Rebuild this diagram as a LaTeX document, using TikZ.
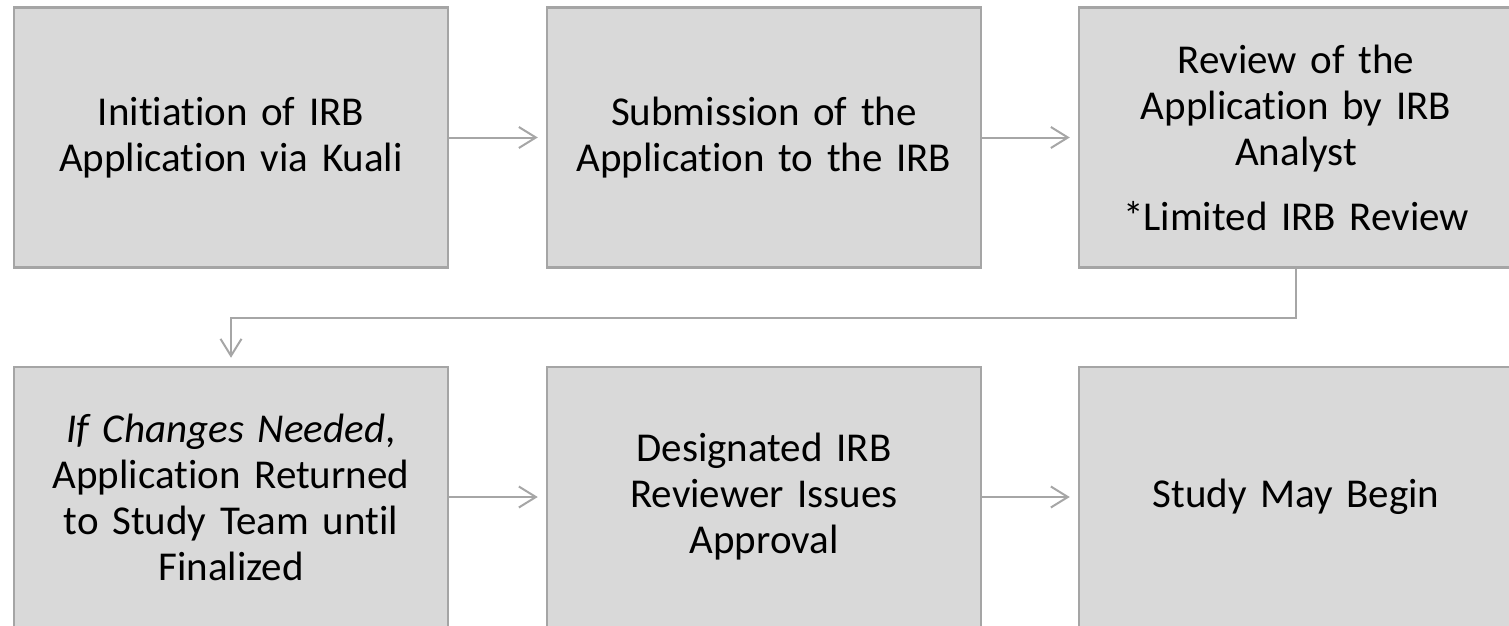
\documentclass[tikz,border=0pt]{standalone}
\usepackage{fontspec}
\setmainfont{Carlito}[Ligatures={NoCommon}]
\usetikzlibrary{arrows.meta,positioning}
\definecolor{boxfill}{HTML}{D9D9D9}
\definecolor{boxline}{HTML}{A5A5A5}
\definecolor{arrline}{HTML}{A6A6A6}
\begin{document}
\begin{tikzpicture}[x=1pt,y=-1pt,
  stepbox/.style={draw=boxline, fill=boxfill, line width=2.5pt,
    minimum width=434pt, minimum height=260pt, inner sep=0pt,
    align=center, text width=420pt,
    font=\fontsize{41pt}{46pt}\selectfont},
  conn/.style={draw=arrline, line width=2pt,
    -{Straight Barb[length=17pt,width=21pt,line width=2pt]}, shorten >=8pt}]
\useasboundingbox (0,0) rectangle (1509,626);
\clip (0,0) rectangle (1509,626);
\node[stepbox] (b1) at (231,137.5) {Initiation of IRB\\Application via Kuali};
\node[stepbox] (b2) at (764,137.5) {Submission of the\\Application to the IRB};
\node[stepbox] (b3) at (1296,137.5) {Review of the\\Application by IRB\\Analyst\\[19pt]*Limited IRB Review};
\node[stepbox] (b4) at (231,497) {\textit{If Changes Needed},\\Application Returned\\to Study Team until\\Finalized};
\node[stepbox] (b5) at (764,497) {Designated IRB\\Reviewer Issues\\Approval};
\node[stepbox] (b6) at (1296,497) {Study May Begin};
\coordinate (t1) at (1296,318);
\coordinate (t2) at (231,318);
\draw[conn] (b1.east) -- (b2.west);
\draw[conn] (b2.east) -- (b3.west);
\draw[conn] (b3.south) -- (t1) -- (t2) -- (b4.north);
\draw[conn] (b4.east) -- (b5.west);
\draw[conn] (b5.east) -- (b6.west);
\end{tikzpicture}
\end{document}
